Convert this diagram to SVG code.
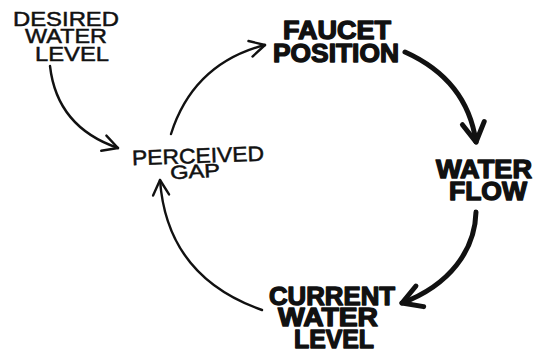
<svg xmlns="http://www.w3.org/2000/svg" width="534" height="354" viewBox="0 0 534 354">
<style>
.thin{font-family:"Liberation Sans",Arial,sans-serif;font-size:21px;fill:#111;stroke:#111;stroke-width:0.5;text-anchor:middle}
.bold{font-family:"Liberation Sans",Arial,sans-serif;font-size:26px;font-weight:bold;fill:#111;stroke:#111;stroke-width:1.4;stroke-linejoin:round;text-anchor:middle}
.c{fill:none;stroke:#111;stroke-linecap:round}
.c1{stroke-width:2.4}
.c2{stroke-width:5}
</style>
<defs>
<marker id="hThin" markerUnits="userSpaceOnUse" viewBox="-20 -12 24 24" markerWidth="24" markerHeight="24" refX="0" refY="0" orient="auto">
<path d="M-15,-8 L0,0 L-15,8" fill="none" stroke="#111" stroke-width="2.4" stroke-linecap="round" stroke-linejoin="round"/>
</marker>
<marker id="hThick" markerUnits="userSpaceOnUse" viewBox="-26 -16 32 32" markerWidth="32" markerHeight="32" refX="0" refY="0" orient="auto">
<path d="M-19,-11 L0,0 L-19,11" fill="none" stroke="#111" stroke-width="5" stroke-linecap="round" stroke-linejoin="round"/>
</marker>
</defs>
<rect width="534" height="354" fill="#fff"/>
<g id="connectors">
<path class="c c1" d="M50,66 C55,110 80,135 118,148" marker-end="url(#hThin)"/>
<path class="c c1" d="M171,134 C185,90 215,58 265,45" marker-end="url(#hThin)"/>
<path class="c c2" d="M405,52 C445,70 470,100 476,142" marker-end="url(#hThick)"/>
<path class="c c2" d="M476,212 C475,250 450,285 402,303" marker-end="url(#hThick)"/>
<path class="c c1" d="M262,310 C205,290 165,250 160,180" marker-end="url(#hThin)"/>
</g>
<g id="desired-water-level">
<text class="thin" x="66" y="26" textLength="106" lengthAdjust="spacingAndGlyphs">DESIRED</text>
<text class="thin" x="66" y="43" textLength="82" lengthAdjust="spacingAndGlyphs">WATER</text>
<text class="thin" x="72" y="61" textLength="74" lengthAdjust="spacingAndGlyphs">LEVEL</text>
</g>
<g id="perceived-gap">
<text class="thin" x="198" y="163" textLength="132" lengthAdjust="spacingAndGlyphs" transform="rotate(-2 198 155)">PERCEIVED</text>
<text class="thin" x="195" y="178" textLength="50" lengthAdjust="spacingAndGlyphs" style="font-size:19px" transform="rotate(-3 195 170)">GAP</text>
</g>
<g id="faucet-position">
<text class="bold" x="337" y="39" textLength="108" lengthAdjust="spacingAndGlyphs">FAUCET</text>
<text class="bold" x="336" y="62" textLength="126" lengthAdjust="spacingAndGlyphs">POSITION</text>
</g>
<g id="water-flow">
<text class="bold" x="484" y="178" textLength="96" lengthAdjust="spacingAndGlyphs">WATER</text>
<text class="bold" x="488" y="200" textLength="78" lengthAdjust="spacingAndGlyphs">FLOW</text>
</g>
<g id="current-water-level">
<text class="bold" x="332" y="305" textLength="126" lengthAdjust="spacingAndGlyphs">CURRENT</text>
<text class="bold" x="328" y="326" textLength="100" lengthAdjust="spacingAndGlyphs">WATER</text>
<text class="bold" x="334" y="348" textLength="80" lengthAdjust="spacingAndGlyphs">LEVEL</text>
</g>
</svg>
